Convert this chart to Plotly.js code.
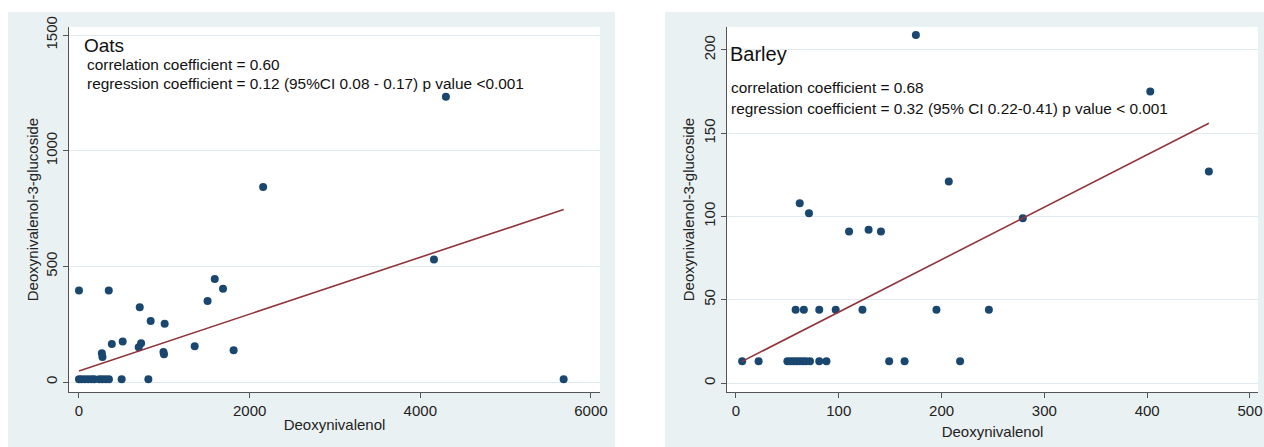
<!DOCTYPE html>
<html><head><meta charset="utf-8">
<script src="https://cdn.plot.ly/plotly-3.0.1.min.js"></script>
<style>html,body{margin:0;padding:0;background:#fff}#chart{width:1264px;height:447px}</style>
</head><body><div id="chart"></div>
<script>
// ---- Data ----
const oatsDON = [0,31,70,109,148,180,238,273,312,351,500,813,5680,
                 0,349,268,275,385,512,712,700,728,840,1004,990,996,1356,1507,1591,1688,1812,2158,4160,4300];
const oatsD3G = [12,12,12,12,12,12,12,12,12,12,12,12,12,
                 396,396,124,108,164,175,323,150,168,264,252,130,120,155,350,445,403,138,843,530,1233];
const oatsFitX = [0, 5680];
const oatsFitY = [48, 746];

const barleyDON = [6,22,50,53,56,59,62,65,68,72,81,88,149,164,218,
                   58,66,81,97,123,195,246,
                   62,71,110,129,141,175,207,279,403,460];
const barleyD3G = [13,13,13,13,13,13,13,13,13,13,13,13,13,13,13,
                   44,44,44,44,44,44,44,
                   108,102,91,92,91,209,121,99,175,127];
const barleyFitX = [6, 460];
const barleyFitY = [13, 156];

const oatsTicksX = [0,2000,4000,6000];
const oatsTicksY = [0,500,1000,1500];
const barleyTicksX = [0,100,200,300,400,500];
const barleyTicksY = [0,50,100,150,200];

const xTitle = 'Deoxynivalenol';
const yTitle = 'Deoxynivalenol-3-glucoside';
const oatsLabel = 'Oats';
const oatsStats = ['correlation coefficient = 0.60',
                   'regression coefficient = 0.12 (95%CI 0.08 - 0.17) p value <0.001'];
const barleyLabel = 'Barley';
const barleyStats = ['correlation coefficient = 0.68',
                     'regression coefficient = 0.32 (95% CI 0.22-0.41) p value < 0.001'];

// ---- Styling / layout ----
const W = 1264, H = 447;
const px = v => v / W;
const py = v => 1 - v / H;
const FONT = 'Liberation Sans, Arial, sans-serif';
const NAVY = '#1a476f', MAROON = '#90353b', BG = '#eaf1f3', GRID = '#e1eaee', AX = '#555';

const traces = [
  {x: oatsDON, y: oatsD3G, type: 'scatter', mode: 'markers', xaxis: 'x', yaxis: 'y',
   marker: {color: NAVY, size: 8}},
  {x: oatsFitX, y: oatsFitY, type: 'scatter', mode: 'lines', xaxis: 'x', yaxis: 'y',
   line: {color: MAROON, width: 1.6}},
  {x: barleyDON, y: barleyD3G, type: 'scatter', mode: 'markers', xaxis: 'x2', yaxis: 'y2',
   marker: {color: NAVY, size: 8}},
  {x: barleyFitX, y: barleyFitY, type: 'scatter', mode: 'lines', xaxis: 'x2', yaxis: 'y2',
   line: {color: MAROON, width: 1.6}}
];

function xAxis(domain, range, ticks, standoff) {
  return {domain, range, tickvals: ticks, ticktext: ticks.map(String), showgrid: false,
    zeroline: false, showline: true, linecolor: AX, linewidth: 1, ticks: 'outside',
    ticklen: 5, tickcolor: AX, tickfont: {family: FONT, size: 15, color: '#222'},
    title: {text: xTitle, font: {family: FONT, size: 15, color: '#222'}, standoff},
    automargin: false, fixedrange: true};
}
function yAxis(domain, range, ticks, anchor, standoff) {
  return {domain, range, anchor, tickvals: ticks, ticktext: ticks.map(String), showgrid: true,
    gridcolor: GRID, gridwidth: 1, zeroline: false, showline: true, linecolor: AX, linewidth: 1,
    ticks: 'outside', ticklen: 5, tickcolor: AX, tickangle: -90,
    tickfont: {family: FONT, size: 15, color: '#222'},
    title: {text: yTitle, font: {family: FONT, size: 15, color: '#222'}, standoff},
    automargin: false, fixedrange: true};
}

function note(text, x, y, size) {
  return {text, x: px(x), y: py(y), xref: 'paper', yref: 'paper', xanchor: 'left', yanchor: 'middle',
    showarrow: false, font: {family: FONT, size, color: '#111'}};
}

const yDom = [py(392), py(27)];
const layout = {
  width: W, height: H, margin: {l: 0, r: 0, t: 0, b: 0},
  paper_bgcolor: '#ffffff', plot_bgcolor: 'rgba(0,0,0,0)', showlegend: false,
  xaxis: Object.assign(xAxis([px(69), px(600)], [-117, 6106], oatsTicksX, 1), {anchor: 'y'}),
  yaxis: yAxis(yDom, [-43, 1535], oatsTicksY, 'x', 0),
  xaxis2: Object.assign(xAxis([px(727), px(1258)], [-8.75, 507.8], barleyTicksX, 8), {anchor: 'y2'}),
  yaxis2: yAxis(yDom, [-5.4, 213.8], barleyTicksY, 'x2', 2),
  shapes: [
    {type: 'rect', xref: 'paper', yref: 'paper', x0: px(8), x1: px(615), y0: py(447), y1: py(12),
     fillcolor: BG, line: {width: 0}, layer: 'below'},
    {type: 'rect', xref: 'paper', yref: 'paper', x0: px(665), x1: px(1264), y0: py(447), y1: py(12),
     fillcolor: BG, line: {width: 0}, layer: 'below'},
    {type: 'rect', xref: 'paper', yref: 'paper', x0: px(69), x1: px(600), y0: py(392), y1: py(27),
     fillcolor: '#ffffff', line: {width: 0}, layer: 'below'},
    {type: 'rect', xref: 'paper', yref: 'paper', x0: px(727), x1: px(1258), y0: py(392), y1: py(27),
     fillcolor: '#ffffff', line: {width: 0}, layer: 'below'}
  ],
  annotations: [
    note(oatsLabel, 82, 45.5, 19),
    note(oatsStats[0], 85, 64.5, 15.4),
    note(oatsStats[1], 85, 83, 15.4),
    note(barleyLabel, 728, 54, 20),
    note(barleyStats[0], 729, 88, 15.4),
    note(barleyStats[1], 729, 108, 15.4)
  ]
};

Plotly.newPlot('chart', traces, layout, {displayModeBar: false, staticPlot: true});
</script>
</body></html>
